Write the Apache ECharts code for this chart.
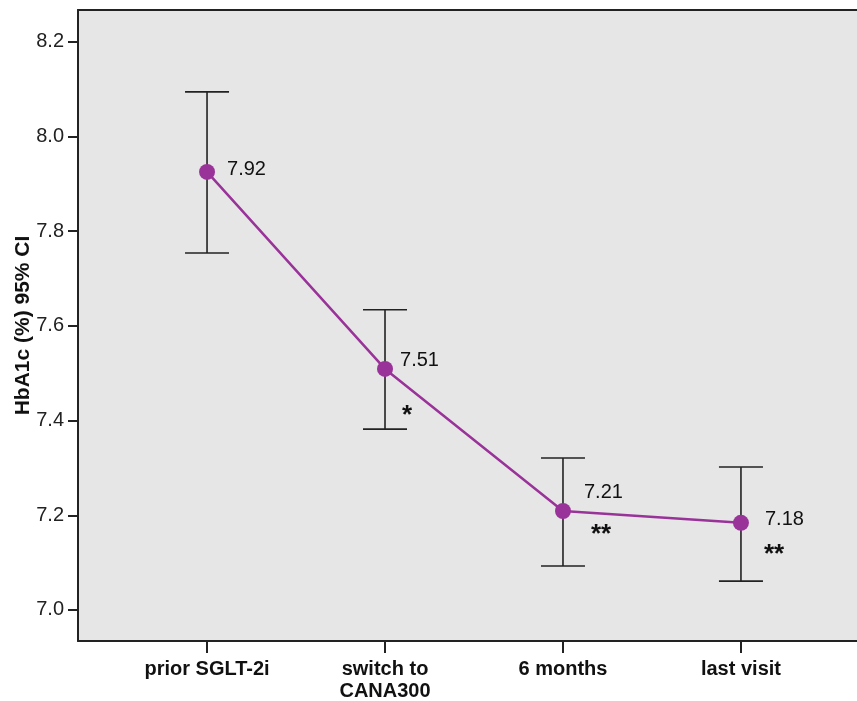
<!DOCTYPE html>
<html><head><meta charset="utf-8">
<script src="https://cdn.jsdelivr.net/npm/echarts@6/dist/echarts.min.js"></script>
<style>html,body{margin:0;padding:0;background:#fff}#c{width:857px;height:701px}</style>
</head><body><div id="c"></div>
<script>
const categories = ['prior SGLT-2i', 'switch to\nCANA300', '6 months', 'last visit'];
const means = [7.925, 7.509, 7.209, 7.184];
const meanLabels = ['7.92', '7.51', '7.21', '7.18'];
const ciLower = [7.754, 7.382, 7.093, 7.061];
const ciUpper = [8.094, 7.634, 7.321, 7.302];
const stars = ['', '*', '**', '**'];
const yTicks = [7.0, 7.2, 7.4, 7.6, 7.8, 8.0, 8.2];

// styling offsets (pixels) for annotation text
const labelOffsets = [[20, -2], [15, -8], [21, -19], [24, -3]];
const starOffsets = [[0, 0], [17, 42], [28, 19], [23, 27]];

const xs = categories.map((c, i) => i + 1);
const font = '"Liberation Sans", Arial, sans-serif';
const chart = echarts.init(document.getElementById('c'), null, {renderer: 'canvas'});

chart.setOption({
  animation: false,
  backgroundColor: '#ffffff',
  textStyle: {fontFamily: font},
  grid: {left: 78, top: 10, right: 0, bottom: 60, show: true, backgroundColor: '#e6e6e6', borderWidth: 0,
    containLabel: false, outerBoundsMode: 'none'},
  xAxis: [{
    type: 'value', min: 0.275, max: 4.652,
    axisLine: {show: true, lineStyle: {color: '#222', width: 2}},
    axisTick: {show: true, customValues: xs, length: 12, lineStyle: {color: '#222', width: 2}},
    axisLabel: {show: true, customValues: xs, formatter: v => categories[Math.round(v) - 1] || '',
      color: '#111', fontWeight: 'bold', fontSize: 20, lineHeight: 22, margin: 17, fontFamily: font},
    splitLine: {show: false}
  }, {
    type: 'value', position: 'top', min: 0.275, max: 4.652,
    axisLine: {show: true, lineStyle: {color: '#222', width: 2}},
    axisTick: {show: false}, axisLabel: {show: false}, splitLine: {show: false}
  }],
  yAxis: {
    type: 'value', min: 6.9345, max: 8.267,
    name: 'HbA1c (%) 95% CI', nameLocation: 'middle', nameGap: 44, nameMoveOverlap: false,
    nameTextStyle: {fontWeight: 'bold', fontSize: 21, color: '#111', fontFamily: font},
    axisLine: {show: true, lineStyle: {color: '#222', width: 2}},
    axisTick: {show: true, customValues: yTicks, length: 10, lineStyle: {color: '#222', width: 2}},
    axisLabel: {show: true, customValues: yTicks, formatter: v => v.toFixed(1), color: '#222', fontSize: 20, margin: 14, fontFamily: font},
    splitLine: {show: false}
  },
  series: [{
    type: 'custom',
    renderItem: function (params, api) {
      const x = api.value(0);
      const lo = api.coord([x, api.value(1)]);
      const hi = api.coord([x, api.value(2)]);
      const hw = 22;
      const st = {stroke: '#222', lineWidth: 1.6};
      return {type: 'group', children: [
        {type: 'line', shape: {x1: lo[0], y1: lo[1], x2: hi[0], y2: hi[1]}, style: st},
        {type: 'line', shape: {x1: lo[0] - hw, y1: lo[1], x2: lo[0] + hw, y2: lo[1]}, style: st},
        {type: 'line', shape: {x1: hi[0] - hw, y1: hi[1], x2: hi[0] + hw, y2: hi[1]}, style: st}
      ]};
    },
    data: xs.map((x, i) => [x, ciLower[i], ciUpper[i]]),
    z: 2
  }, {
    type: 'line',
    data: xs.map((x, i) => [x, means[i]]),
    symbol: 'circle', symbolSize: 16,
    lineStyle: {color: '#993399', width: 2.5},
    itemStyle: {color: '#993399'},
    label: {show: true, formatter: p => meanLabels[p.dataIndex], position: 'inside',
      color: '#111', fontSize: 20, fontFamily: font, align: 'left', verticalAlign: 'middle'},
    labelLayout: function (params) {
      const i = params.dataIndex;
      const r = params.rect;
      return {x: r.x + r.width / 2 + labelOffsets[i][0], y: r.y + r.height / 2 + labelOffsets[i][1]};
    },
    z: 3
  }, {
    type: 'custom',
    renderItem: function (params, api) {
      const i = params.dataIndex;
      const p = api.coord([api.value(0), api.value(1)]);
      return {type: 'text', style: {text: stars[i], x: p[0] + starOffsets[i][0], y: p[1] + starOffsets[i][1] + 5,
        fill: '#111', font: 'bold 26px ' + font, align: 'left', verticalAlign: 'middle'}};
    },
    data: xs.map((x, i) => [x, means[i]]),
    z: 4
  }]
});
</script></body></html>
